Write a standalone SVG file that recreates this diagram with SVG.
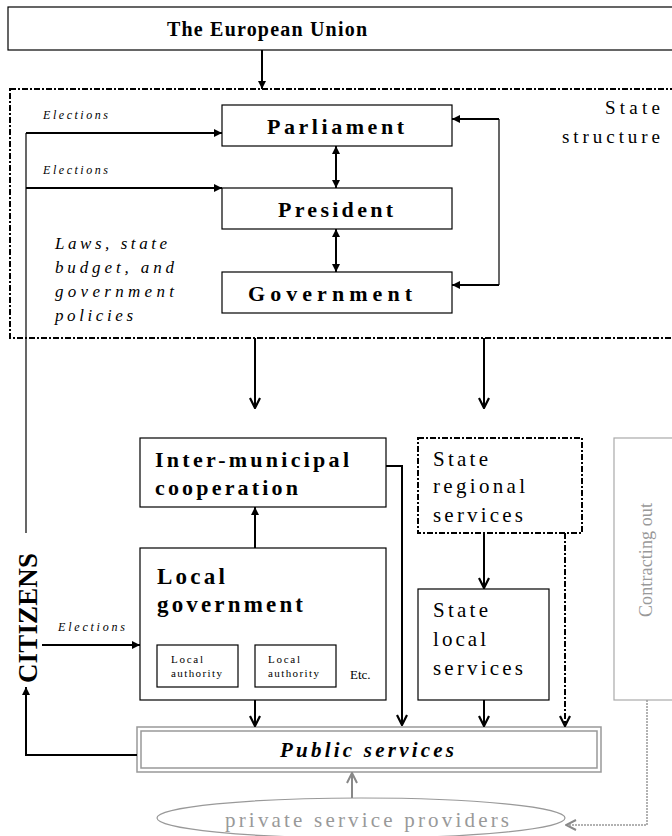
<svg xmlns="http://www.w3.org/2000/svg" width="672" height="836" viewBox="0 0 672 836">
<style>
.box{fill:#fff;stroke:#000;stroke-width:1.2}
.dd{fill:none;stroke:#000;stroke-width:2;stroke-dasharray:6,2,2,2}
.ln{fill:none;stroke:#000;stroke-width:2}
.thin{fill:none;stroke:#000;stroke-width:1.2}
.t{font-family:"Liberation Serif","Times New Roman",serif;fill:#000}
.b{font-weight:bold}
.i{font-style:italic}
.g{fill:#999}
</style>
<defs>
<marker id="tri" viewBox="0 0 10 10" refX="10" refY="5" markerWidth="10" markerHeight="8" markerUnits="userSpaceOnUse" orient="auto-start-reverse"><path d="M0,0L10,5L0,10z" fill="#000"/></marker>
<marker id="vee" viewBox="0 0 12 12" refX="11" refY="6" markerWidth="12" markerHeight="12" markerUnits="userSpaceOnUse" orient="auto"><path d="M1,1L11,6L1,11" fill="none" stroke="#000" stroke-width="2.2"/></marker>
<marker id="veeg" viewBox="0 0 12 12" refX="11" refY="6" markerWidth="12" markerHeight="12" markerUnits="userSpaceOnUse" orient="auto"><path d="M1,1L11,6L1,11" fill="none" stroke="#888" stroke-width="2"/></marker>
</defs>

<g id="eu"><rect class="box" x="8" y="7" width="680" height="43"/><text class="t b" x="167" y="36" font-size="20" textLength="200" lengthAdjust="spacing">The European Union</text></g>

<g id="state-structure"><rect class="dd" x="10" y="89" width="680" height="249"/>
<text class="t" x="605" y="114" font-size="19" textLength="55" lengthAdjust="spacing">State</text>
<text class="t" x="562" y="143" font-size="19" textLength="98" lengthAdjust="spacing">structure</text>
<text class="t i" x="55" y="249" font-size="17" textLength="112" lengthAdjust="spacing">Laws, state</text>
<text class="t i" x="55" y="273" font-size="17" textLength="119" lengthAdjust="spacing">budget, and</text>
<text class="t i" x="55" y="297" font-size="17" textLength="119" lengthAdjust="spacing">government</text>
<text class="t i" x="55" y="321" font-size="17" textLength="78" lengthAdjust="spacing">policies</text></g>

<g id="parliament"><rect class="box" x="222" y="105" width="230" height="41"/><text class="t b" x="267" y="134" font-size="22" textLength="137" lengthAdjust="spacing">Parliament</text></g>
<g id="president"><rect class="box" x="222" y="188" width="230" height="41"/><text class="t b" x="278" y="217" font-size="22" textLength="115" lengthAdjust="spacing">President</text></g>
<g id="government"><rect class="box" x="222" y="272" width="230" height="41"/><text class="t b" x="248" y="301" font-size="22" textLength="164" lengthAdjust="spacing">Government</text></g>

<g id="inter-municipal"><rect class="box" x="140" y="438" width="246" height="69"/><text class="t b" x="155" y="467" font-size="22" textLength="194" lengthAdjust="spacing">Inter-municipal</text><text class="t b" x="155" y="495" font-size="22" textLength="143" lengthAdjust="spacing">cooperation</text></g>

<g id="local-government"><rect class="box" x="140" y="548" width="246" height="152"/><text class="t b" x="157" y="584" font-size="23" textLength="68" lengthAdjust="spacing">Local</text><text class="t b" x="157" y="612" font-size="23" textLength="146" lengthAdjust="spacing">government</text>
<rect class="box" x="157" y="645" width="81" height="42"/><text class="t" x="171" y="663" font-size="11" textLength="32" lengthAdjust="spacing">Local</text><text class="t" x="171" y="677" font-size="11" textLength="51" lengthAdjust="spacing">authority</text>
<rect class="box" x="255" y="645" width="81" height="42"/><text class="t" x="268" y="663" font-size="11" textLength="32" lengthAdjust="spacing">Local</text><text class="t" x="268" y="677" font-size="11" textLength="51" lengthAdjust="spacing">authority</text>
<text class="t" x="350" y="679" font-size="13">Etc.</text></g>

<g id="state-regional"><rect class="dd" x="418" y="438" width="164" height="95"/><text class="t" x="433" y="466" font-size="21" textLength="55" lengthAdjust="spacing">State</text><text class="t" x="433" y="493" font-size="21" textLength="92" lengthAdjust="spacing">regional</text><text class="t" x="433" y="522" font-size="21" textLength="90" lengthAdjust="spacing">services</text></g>

<g id="state-local"><rect class="box" x="418" y="589" width="131" height="111"/><text class="t" x="433" y="617" font-size="21" textLength="55" lengthAdjust="spacing">State</text><text class="t" x="433" y="646" font-size="21" textLength="53" lengthAdjust="spacing">local</text><text class="t" x="433" y="675" font-size="21" textLength="90" lengthAdjust="spacing">services</text></g>

<g id="contracting-out"><rect x="614" y="438" width="80" height="262" fill="#fff" stroke="#aaa" stroke-width="1.2"/><text class="t g" transform="translate(652,617) rotate(-90)" font-size="18" textLength="114" lengthAdjust="spacing">Contracting out</text></g>

<g id="public-services"><rect x="137" y="727" width="464" height="45" fill="#fff" stroke="#999" stroke-width="1.5"/><rect x="141" y="731" width="456" height="37" fill="#fff" stroke="#999" stroke-width="1.5"/><text class="t b i" x="280" y="757" font-size="21" textLength="174" lengthAdjust="spacing">Public services</text></g>

<g id="private-providers"><ellipse cx="361" cy="818" rx="204" ry="20" fill="#fff" stroke="#999" stroke-width="1.2"/><text class="t g" x="225" y="827" font-size="21" textLength="284" lengthAdjust="spacing">private service providers</text></g>

<g id="citizens"><text class="t b" transform="translate(37,683) rotate(-90)" font-size="27" textLength="130" lengthAdjust="spacing">CITIZENS</text>
<text class="t i" x="43" y="119" font-size="12" textLength="65" lengthAdjust="spacing">Elections</text>
<text class="t i" x="43" y="174" font-size="12" textLength="65" lengthAdjust="spacing">Elections</text>
<text class="t i" x="58" y="631" font-size="12" textLength="67" lengthAdjust="spacing">Elections</text></g>

<g id="connectors">
<line class="ln" x1="262" y1="50" x2="262" y2="89" marker-end="url(#tri)"/>
<line class="thin" x1="26" y1="133" x2="26" y2="533"/>
<line class="ln" x1="26" y1="133" x2="222" y2="133" marker-end="url(#tri)"/>
<line class="ln" x1="26" y1="188" x2="222" y2="188" marker-end="url(#tri)"/>
<line class="ln" x1="336" y1="146" x2="336" y2="188" marker-start="url(#tri)" marker-end="url(#tri)"/>
<line class="ln" x1="336" y1="229" x2="336" y2="272" marker-start="url(#tri)" marker-end="url(#tri)"/>
<polyline class="thin" points="499,119 499,285"/>
<line class="ln" x1="499" y1="119" x2="452" y2="119" marker-end="url(#tri)"/>
<line class="ln" x1="499" y1="285" x2="452" y2="285" marker-end="url(#tri)"/>
<line class="ln" x1="255" y1="338" x2="255" y2="408" marker-end="url(#vee)"/>
<line class="ln" x1="484" y1="338" x2="484" y2="408" marker-end="url(#vee)"/>
<line class="ln" x1="255" y1="548" x2="255" y2="507" marker-end="url(#tri)"/>
<line class="ln" x1="42" y1="645" x2="140" y2="645" marker-end="url(#tri)"/>
<polyline class="ln" points="386,466 402,466 402,725" marker-end="url(#vee)"/>
<line class="ln" x1="484" y1="533" x2="484" y2="588" marker-end="url(#vee)"/>
<line class="ln" x1="255" y1="700" x2="255" y2="726" marker-end="url(#vee)"/>
<line class="ln" x1="484" y1="700" x2="484" y2="726" marker-end="url(#vee)"/>
<line class="dd" x1="565" y1="533" x2="565" y2="726" marker-end="url(#vee)"/>
<polyline class="ln" points="137,755 26,755 26,687" marker-end="url(#tri)"/>
<line x1="352" y1="798" x2="352" y2="773" stroke="#888" stroke-width="2" marker-end="url(#veeg)"/>
<polyline points="647,700 647,825 566,825" fill="none" stroke="#999" stroke-width="1.5" stroke-dasharray="2,1" marker-end="url(#veeg)"/>
</g>
</svg>
